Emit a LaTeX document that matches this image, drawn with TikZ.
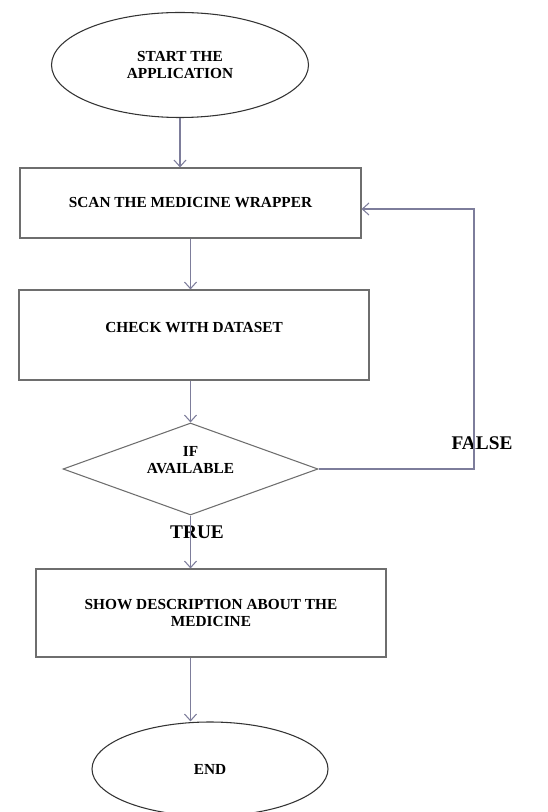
\documentclass[tikz,border=0pt]{standalone}
\usepackage{fontspec}
\setmainfont{Liberation Serif}
\usetikzlibrary{shapes.geometric,arrows.meta}
\definecolor{flowline}{RGB}{125,125,155}
\definecolor{boxline}{RGB}{110,110,110}

\begin{document}
\begin{tikzpicture}[x=0.75pt,y=-0.75pt,
		box/.style={draw=boxline,thick,rectangle,inner sep=0pt,align=center,font=\fontsize{11.5}{13}\selectfont\bfseries},
		oval/.style={draw=black!80,thick,ellipse,inner sep=0pt,align=center,font=\fontsize{11.5}{13}\selectfont\bfseries},
		choice/.style={draw=boxline,thick,diamond,inner sep=0pt},
		flow/.style={draw=flowline,thick,-{Straight Barb[length=5pt,width=9pt]}},
		tag/.style={font=\fontsize{14.5}{16}\selectfont\bfseries}]
		\useasboundingbox (0,0) rectangle (548,812);
		\node[oval,minimum width=192.75pt,minimum height=78.75pt] (start) at (180,65) {START THE\\APPLICATION};
		\node[box,minimum width=255.75pt,minimum height=52.5pt] (scan) at (190.5,203) {SCAN THE MEDICINE WRAPPER};
		\node[box,minimum width=262.5pt,minimum height=67.5pt] (check) at (194,335) {CHECK WITH DATASET\\[-2pt]};
		\node[choice,minimum width=191.25pt,minimum height=69pt] (avail) at (190.5,469) {};
		\node[align=center,font=\fontsize{11.5}{13}\selectfont\bfseries] (availtext) at ([yshift=6.5pt]avail.center) {IF\\AVAILABLE};
		\node[box,minimum width=262.5pt,minimum height=66pt] (show) at (211,613) {SHOW DESCRIPTION ABOUT THE\\MEDICINE};
		\node[oval,minimum width=177pt,minimum height=70.5pt] (end) at (210,769) {END};
		\coordinate (loop) at (474,209);
		\node[tag] (false) at (482,443) {FALSE};
		\node[tag] (true) at (197,532) {TRUE};

		\draw[flow] (start.south) -- (start.south |- scan.north);
		\draw[flow] (scan.south) -- (scan.south |- check.north);
		\draw[flow] (avail.north |- check.south) -- (avail.north);
		\draw[flow] (avail.south) -- (avail.south |- show.north);
		\draw[flow] (avail.south |- show.south) -- (avail.south |- end.north);
		\draw[flow] (avail.east) -| (loop) -- (loop -| scan.east);
	    \end{tikzpicture}
\end{document}
